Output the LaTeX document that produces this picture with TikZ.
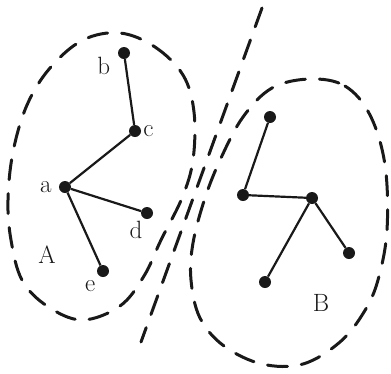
\documentclass[tikz,border=0pt]{standalone}
\usepackage{tikz}
\usepackage{xcolor}
\usetikzlibrary{arrows.meta,positioning,shapes.geometric}
\definecolor{inkblack}{RGB}{25,25,25}

\begin{document}
\begin{tikzpicture}[
    x=1pt,y=-1pt,
    every label/.style={font=\fontsize{25}{28}\selectfont,text=inkblack,inner sep=1pt},
    vert/.style={circle,fill=inkblack,draw=none,inner sep=0pt,minimum size=12pt},
    edge/.style={draw=inkblack,line width=2.2pt},
    ring/.style={draw=inkblack,line width=3pt,line cap=round,dash pattern=on 20pt off 14pt},
    tag/.style={font=\fontsize{25}{28}\selectfont,text=inkblack,inner sep=0pt}
  ]
    \useasboundingbox (0,0) rectangle (391,373);

    \draw[ring] plot[smooth cycle,tension=0.6] coordinates {
      (120,33) (155,47) (183,75) (194,112) (193,160) (182,198) (161,240)
      (144,276) (120,306) (82,320) (47,306) (22,280) (11,240) (8,200)
      (13,152) (27,105) (50,68) (83,40)};

    \draw[ring] plot[smooth cycle,tension=0.6] coordinates {
      (310,79) (345,86) (370,115) (385,165) (387,230) (378,280) (364,312)
      (340,342) (303,364) (262,364) (224,346) (200,318) (191,280) (193,243)
      (205,198) (221,158) (243,117) (272,88)};

    \coordinate (cutTop) at (262,8);
    \coordinate (cutBot) at (141,342);
    \draw[ring] (cutTop) -- (cutBot);

    \node[vert,label={[label distance=6pt]left:a}] (a) at (65,187) {};
    \node[vert,label={[label distance=7pt]195:b}] (b) at (124,53) {};
    \node[vert,label={[label distance=1pt]right:c}] (c) at (135,131) {};
    \node[vert,label={[label distance=2pt]245:d}] (d) at (147,213) {};
    \node[vert,label={[label distance=4pt]230:e}] (e) at (103,271) {};
    \node[tag] (setA) at (47,255) {A};

    \node[vert] (p) at (270,117) {};
    \node[vert] (q) at (243,195) {};
    \node[vert] (r) at (312,198) {};
    \node[vert] (s) at (349,253) {};
    \node[vert] (t) at (265,282) {};
    \node[tag] (setB) at (321,303) {B};

    \draw[edge] (b) -- (c);
    \draw[edge] (c) -- (a);
    \draw[edge] (a) -- (d);
    \draw[edge] (a) -- (e);

    \draw[edge] (p) -- (q);
    \draw[edge] (q) -- (r);
    \draw[edge] (r) -- (s);
    \draw[edge] (r) -- (t);
\end{tikzpicture}
\end{document}
